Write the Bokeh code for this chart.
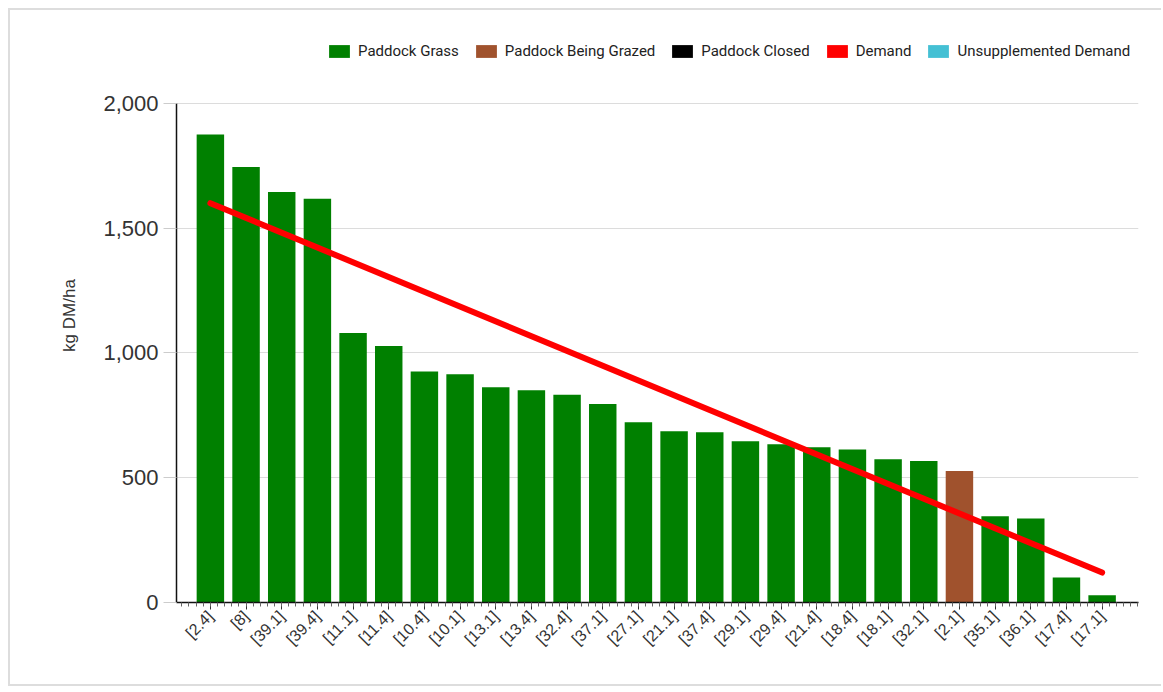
import math
from bokeh.plotting import figure
from bokeh.models import Range1d, FixedTicker, Legend, LegendItem, NumeralTickFormatter
from bokeh.embed import file_html
from bokeh.resources import INLINE

# ---- data ----
paddocks = ["[2.4]", "[8]", "[39.1]", "[39.4]", "[11.1]", "[11.4]", "[10.4]", "[10.1]",
            "[13.1]", "[13.4]", "[32.4]", "[37.1]", "[27.1]", "[21.1]", "[37.4]", "[29.1]",
            "[29.4]", "[21.4]", "[18.4]", "[18.1]", "[32.1]", "[2.1]", "[35.1]", "[36.1]",
            "[17.4]", "[17.1]"]
cover = [1875, 1745, 1645, 1618, 1080, 1028, 926, 915,
         862, 850, 832, 795, 722, 686, 682, 646,
         634, 622, 613, 574, 567, 527, 346, 337,
         100, 29]
status = ["Paddock Grass"] * 21 + ["Paddock Being Grazed"] + ["Paddock Grass"] * 4
demand_paddocks = ["[2.4]", "[17.1]"]
demand = [1600, 120]
legend_names = ["Paddock Grass", "Paddock Being Grazed", "Paddock Closed", "Demand",
                "Unsupplemented Demand"]
y_ticks = [0, 500, 1000, 1500, 2000]

# ---- styles ----
colors = {"Paddock Grass": "#008000", "Paddock Being Grazed": "#A0522D",
          "Paddock Closed": "#000000", "Demand": "#FF0000",
          "Unsupplemented Demand": "#44C0D4"}

pos = {c: i + 1 for i, c in enumerate(paddocks)}

W, H = 1153, 678
p = figure(width=W, height=H, output_backend="svg", toolbar_location=None,
           x_range=Range1d(0.05, 27.02), y_range=Range1d(0, 2300),
           min_border_left=166, min_border_right=25, min_border_top=18,
           min_border_bottom=86)
p.styles = {"margin-left": "8px", "margin-top": "8px",
            "border-left": "2px solid #dddddd", "border-top": "2px solid #dddddd",
            "border-bottom": "2px solid #dddddd"}
p.outline_line_color = None
p.background_fill_color = "white"
p.border_fill_color = "white"

# bars
p.vbar(x=[pos[c] for c in paddocks], top=cover, bottom=0, width=0.77,
       fill_color=[colors[s] for s in status], line_color=None)

# demand line
p.line(x=[pos[c] for c in demand_paddocks], y=demand, line_color=colors["Demand"],
       line_width=6, line_cap="round")

# legend (square swatches) - zero-height proxy bars, used only for the legend
items = []
for name in legend_names:
    r = p.vbar(x=[0], top=[0], bottom=[0], width=0.5, fill_color=colors[name],
               line_color=None)
    items.append(LegendItem(label=name, renderers=[r]))
legend = Legend(items=items, orientation="horizontal", location=(150, 542),
                glyph_width=26, glyph_height=16, label_standoff=6, spacing=14,
                padding=0, margin=0, border_line_color=None, background_fill_alpha=0,
                label_text_font="Roboto", label_text_font_size="15px",
                label_text_color="#222222", label_height=16, label_text_baseline="middle")
p.add_layout(legend)

# x axis
xa = p.xaxis[0]
xa.ticker = FixedTicker(ticks=[pos[c] for c in paddocks],
                        minor_ticks=[i / 5 for i in range(0, 136)])
xa.major_label_overrides = {pos[c]: c for c in paddocks}
xa.major_label_orientation = math.pi / 4
xa.major_label_text_font = "Liberation Sans"
xa.major_label_text_font_size = "16px"
xa.major_label_text_color = "#333333"
xa.axis_line_color = "#111111"
xa.axis_line_width = 1.5
xa.major_tick_line_color = "#333333"
xa.major_tick_out = 7
xa.major_tick_in = 0
xa.minor_tick_line_color = "#666666"
xa.minor_tick_out = 4
xa.minor_tick_in = 0
xa.major_label_standoff = 4

# y axis
ya = p.yaxis[0]
ya.bounds = (0, 2000)
ya.ticker = FixedTicker(ticks=y_ticks)
ya.formatter = NumeralTickFormatter(format="0,0")
ya.axis_label = "kg DM/ha"
ya.axis_label_text_font = "Liberation Sans"
ya.axis_label_text_font_style = "normal"
ya.axis_label_text_font_size = "17px"
ya.axis_label_text_color = "#333333"
ya.axis_label_standoff = 21
ya.major_label_text_font = "Liberation Sans"
ya.major_label_text_font_size = "22px"
ya.major_label_text_color = "#333333"
ya.axis_line_color = "#111111"
ya.axis_line_width = 1.5
ya.major_tick_line_color = "#cccccc"
ya.major_tick_out = 13
ya.major_tick_in = 0
ya.minor_tick_line_color = None
ya.major_label_standoff = 5

p.xgrid.visible = False
p.ygrid.ticker = FixedTicker(ticks=y_ticks)
p.ygrid.grid_line_color = "#dcdcdc"
p.ygrid.grid_line_width = 1

open("out.html", "w").write(file_html(p, INLINE))
